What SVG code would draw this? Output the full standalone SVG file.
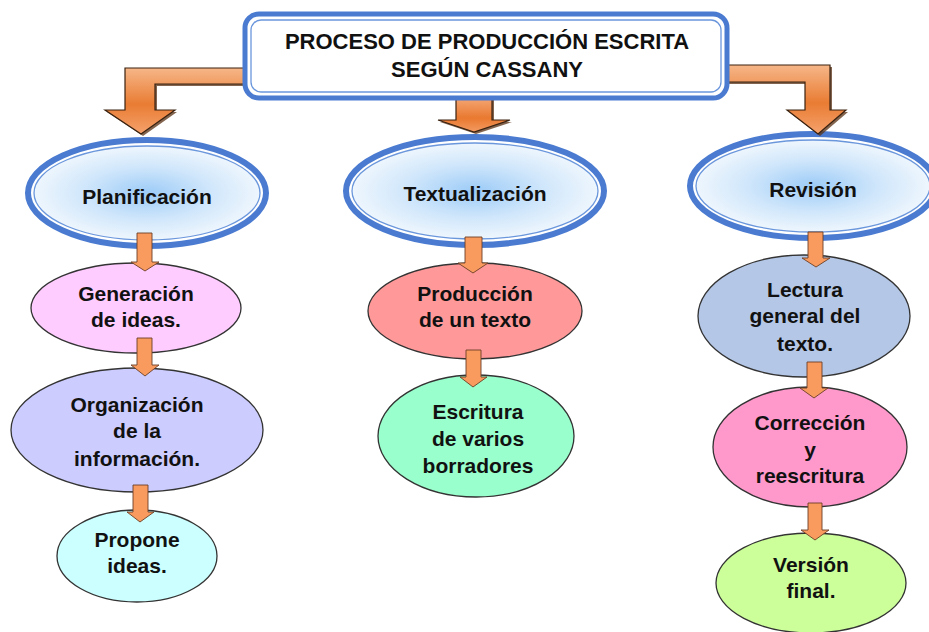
<svg xmlns="http://www.w3.org/2000/svg" width="929" height="632" viewBox="0 0 929 632">
<defs>
<radialGradient id="blueFill" cx="50%" cy="50%" r="50%">
<stop offset="0" stop-color="#9ccbf7"/>
<stop offset="0.55" stop-color="#cfe6fb"/>
<stop offset="1" stop-color="#eef6fd"/>
</radialGradient>
<linearGradient id="orangeV" x1="0" y1="0" x2="0" y2="1">
<stop offset="0" stop-color="#f6b688"/>
<stop offset="0.55" stop-color="#e97c33"/>
<stop offset="1" stop-color="#f5a26d"/>
</linearGradient>
<linearGradient id="orangeM" x1="0" y1="0" x2="0" y2="1">
<stop offset="0" stop-color="#f4a878"/>
<stop offset="0.6" stop-color="#e9792f"/>
<stop offset="1" stop-color="#f39a62"/>
</linearGradient>
</defs>
<style>
.lvl1o{fill:#ffffff;stroke:#4a7bd1;stroke-width:6}
.lvl1i{fill:url(#blueFill);stroke:#6a96dc;stroke-width:1.3}
.node{stroke:#333333;stroke-width:1.3}
.t{font-family:"Liberation Sans",Arial,sans-serif;font-weight:bold;font-size:21px;fill:#111111;text-anchor:middle}
.title{font-family:"Liberation Sans",Arial,sans-serif;font-weight:bold;font-size:22px;fill:#111111;text-anchor:middle}
.sa{fill:#f99a5e;stroke:#6b4026;stroke-width:0.9}
.ba{stroke:#3a2210;stroke-width:1.2}
.sh{fill:#5a3214;opacity:0.75}
</style>

<g id="planificacion">
<ellipse class="lvl1o" cx="147" cy="193" rx="119" ry="53"/>
<ellipse class="lvl1i" cx="147" cy="193" rx="113" ry="47"/>
<text class="t" x="147" y="204">Planificación</text>
</g>
<g id="textualizacion">
<ellipse class="lvl1o" cx="475" cy="191" rx="129" ry="54"/>
<ellipse class="lvl1i" cx="475" cy="191" rx="123" ry="48"/>
<text class="t" x="475" y="201">Textualización</text>
</g>
<g id="revision">
<ellipse class="lvl1o" cx="813" cy="186" rx="123" ry="52"/>
<ellipse class="lvl1i" cx="813" cy="186" rx="117" ry="46"/>
<text class="t" x="813" y="197">Revisión</text>
</g>

<g id="generacion">
<ellipse class="node" cx="136" cy="308" rx="105" ry="45" fill="#ffccff"/>
<text class="t" x="136" y="301">Generación</text>
<text class="t" x="136" y="327">de ideas.</text>
</g>
<g id="organizacion">
<ellipse class="node" cx="137" cy="430" rx="126" ry="62" fill="#ccccff"/>
<text class="t" x="137" y="412">Organización</text>
<text class="t" x="137" y="438">de la</text>
<text class="t" x="137" y="466">información.</text>
</g>
<g id="propone">
<ellipse class="node" cx="137" cy="556" rx="80" ry="46" fill="#ccffff"/>
<text class="t" x="137" y="547">Propone</text>
<text class="t" x="137" y="573">ideas.</text>
</g>
<g id="produccion">
<ellipse class="node" cx="475" cy="311" rx="107" ry="48" fill="#ff9999"/>
<text class="t" x="475" y="301">Producción</text>
<text class="t" x="475" y="327">de un texto</text>
</g>
<g id="escritura">
<ellipse class="node" cx="476" cy="436" rx="98" ry="61" fill="#99ffcc"/>
<text class="t" x="478" y="419">Escritura</text>
<text class="t" x="478" y="446">de varios</text>
<text class="t" x="478" y="473">borradores</text>
</g>
<g id="lectura">
<ellipse class="node" cx="804" cy="316" rx="106" ry="61" fill="#b4c7e7"/>
<text class="t" x="805" y="297">Lectura</text>
<text class="t" x="805" y="323">general del</text>
<text class="t" x="805" y="351">texto.</text>
</g>
<g id="correccion">
<ellipse class="node" cx="810" cy="447" rx="97" ry="60" fill="#ff99cc"/>
<text class="t" x="810" y="430">Corrección</text>
<text class="t" x="810" y="457">y</text>
<text class="t" x="810" y="483">reescritura</text>
</g>
<g id="version">
<ellipse class="node" cx="811" cy="583" rx="95" ry="50" fill="#ccff99"/>
<text class="t" x="811" y="572">Versión</text>
<text class="t" x="811" y="598">final.</text>
</g>

<g id="connectors">
<path class="sh" d="M249,70 L127,70 L127,112 L107,112 L143,136 L177,112 L157,112 L157,86 L249,86 Z"/>
<path class="ba" fill="url(#orangeV)" d="M247,68 L125,68 L125,110 L105,110 L141,134 L175,110 L155,110 L155,84 L247,84 Z"/>
<path class="sh" d="M729,67 L832,67 L832,112 L848,112 L820,136 L789,112 L807,112 L807,84 L729,84 Z"/>
<path class="ba" fill="url(#orangeV)" d="M727,65 L830,65 L830,110 L846,110 L818,134 L787,110 L805,110 L805,82 L727,82 Z"/>
<path class="sh" d="M458,99 L494,99 L494,122 L512,122 L476,134 L440,122 L458,122 Z"/>
<path class="ba" fill="url(#orangeM)" d="M456,97 L492,97 L492,120 L510,120 L474,132 L438,120 L456,120 Z"/>

<path class="sa" d="M137,233 L152,233 L152,262 L159,262 L145,271 L131,262 L137,262 Z"/>
<path class="sa" d="M137,338 L152,338 L152,365 L159,365 L145,376 L131,365 L137,365 Z"/>
<path class="sa" d="M133,485 L148,485 L148,512 L154,512 L140,522 L127,512 L133,512 Z"/>
<path class="sa" d="M465,237 L482,237 L482,263 L488,263 L473,273 L458,263 L465,263 Z"/>
<path class="sa" d="M466,350 L481,350 L481,377 L487,377 L473,387 L460,377 L466,377 Z"/>
<path class="sa" d="M808,232 L823,232 L823,258 L830,258 L816,267 L802,258 L808,258 Z"/>
<path class="sa" d="M807,362 L822,362 L822,388 L828,388 L814,398 L800,388 L807,388 Z"/>
<path class="sa" d="M808,503 L822,503 L822,530 L829,530 L815,540 L801,530 L808,530 Z"/>
</g>

<g id="titulo">
<rect x="245" y="14" width="482" height="84" rx="14" ry="14" fill="#ffffff" stroke="#4a7bd1" stroke-width="5"/>
<rect x="251" y="20" width="470" height="72" rx="10" ry="10" fill="#ffffff" stroke="#6a96dc" stroke-width="1.3"/>
<text class="title" x="487" y="49">PROCESO DE PRODUCCIÓN ESCRITA</text>
<text class="title" x="487" y="77">SEGÚN CASSANY</text>
</g>
</svg>
